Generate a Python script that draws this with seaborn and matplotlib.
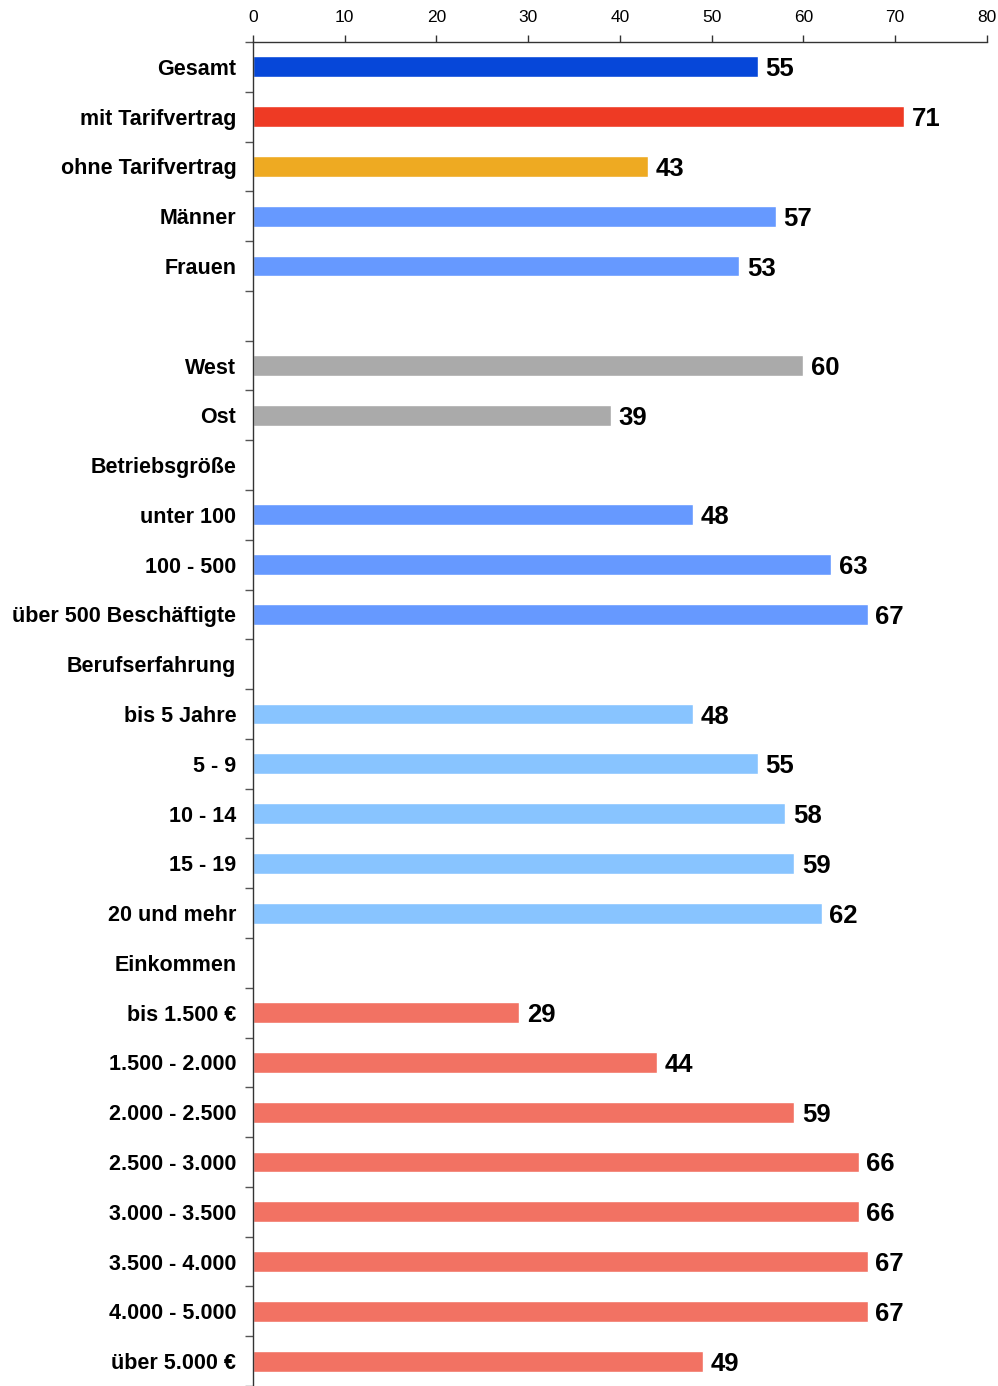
import matplotlib
matplotlib.use("Agg")
import matplotlib.pyplot as plt
import seaborn as sns
import pandas as pd
import numpy as np

categories = ["Gesamt", "mit Tarifvertrag", "ohne Tarifvertrag", "Männer", "Frauen", " ",
              "West", "Ost", "Betriebsgröße", "unter 100", "100 - 500", "über 500 Beschäftigte",
              "Berufserfahrung", "bis 5 Jahre", "5 - 9", "10 - 14", "15 - 19", "20 und mehr",
              "Einkommen", "bis 1.500 €", "1.500 - 2.000", "2.000 - 2.500", "2.500 - 3.000",
              "3.000 - 3.500", "3.500 - 4.000", "4.000 - 5.000", "über 5.000 €"]
values = [55, 71, 43, 57, 53, None,
          60, 39, None, 48, 63, 67,
          None, 48, 55, 58, 59, 62,
          None, 29, 44, 59, 66, 66, 67, 67, 49]
colors = ["#0647D9", "#EE3A24", "#EEAA22", "#6699FF", "#6699FF", "#FFFFFF",
          "#AAAAAA", "#AAAAAA", "#FFFFFF", "#6699FF", "#6699FF", "#6699FF",
          "#FFFFFF", "#88C4FF", "#88C4FF", "#88C4FF", "#88C4FF", "#88C4FF",
          "#FFFFFF", "#F27263", "#F27263", "#F27263", "#F27263", "#F27263", "#F27263", "#F27263", "#F27263"]
x_ticks = [0, 10, 20, 30, 40, 50, 60, 70, 80]

sns.set_theme(style="white")
plt.rcParams["font.family"] = ["Liberation Sans", "DejaVu Sans"]
plt.rcParams["text.color"] = "black"
plt.rcParams["xtick.color"] = "black"
plt.rcParams["ytick.color"] = "black"

df = pd.DataFrame({"cat": categories, "val": values, "col": colors})
df_plot = df.dropna(subset=["val"])
palette = dict(zip(df_plot["cat"], df_plot["col"]))

fig = plt.figure(figsize=(9.98, 13.86), dpi=100)
ax = fig.add_axes([253 / 998, 0, (987 - 253) / 998, 1 - 42 / 1386])

sns.barplot(data=df_plot, x="val", y="cat", hue="cat", palette=palette, order=categories,
            hue_order=list(df_plot["cat"]), orient="h", width=0.42, legend=False,
            saturation=1, ax=ax)

for cont in ax.containers:
    for patch in cont.patches:
        w = patch.get_width()
        yc = patch.get_y() + patch.get_height() / 2
        ax.annotate(f"{w:.0f}", xy=(w, yc), xytext=(5.5, 0), textcoords="offset points",
                    ha="left", va="center_baseline", fontsize=18.5, fontweight="bold",
                    color="black")

ax.set_xlim(0, 80)
ax.set_xticks(x_ticks)
ax.xaxis.tick_top()
ax.xaxis.set_label_position("top")
ax.tick_params(axis="x", which="major", direction="out", length=5, width=1, color="#333333",
               labelcolor="black", labelsize=12.5, pad=7, bottom=False, top=True,
               labelbottom=False, labeltop=True)

n = len(categories)
ax.set_ylim(-0.5 + 1344 / 50, -0.5)
ax.set_yticks(range(n))
ax.set_yticklabels(categories, fontsize=15.5, fontweight="bold", color="black")
ax.set_yticks(np.arange(-0.5, n, 1.0), minor=True)
ax.tick_params(axis="y", which="major", length=0, pad=12, left=True, labelcolor="black")
ax.tick_params(axis="y", which="minor", direction="out", length=6, width=1, color="#555555", left=True)

ax.set_xlabel("")
ax.set_ylabel("")
for s in ["right", "bottom"]:
    ax.spines[s].set_visible(False)
for s in ["left", "top"]:
    ax.spines[s].set_color("#333333")
    ax.spines[s].set_linewidth(1)
ax.grid(False)

fig.savefig("out.png", dpi=100, facecolor="white")
